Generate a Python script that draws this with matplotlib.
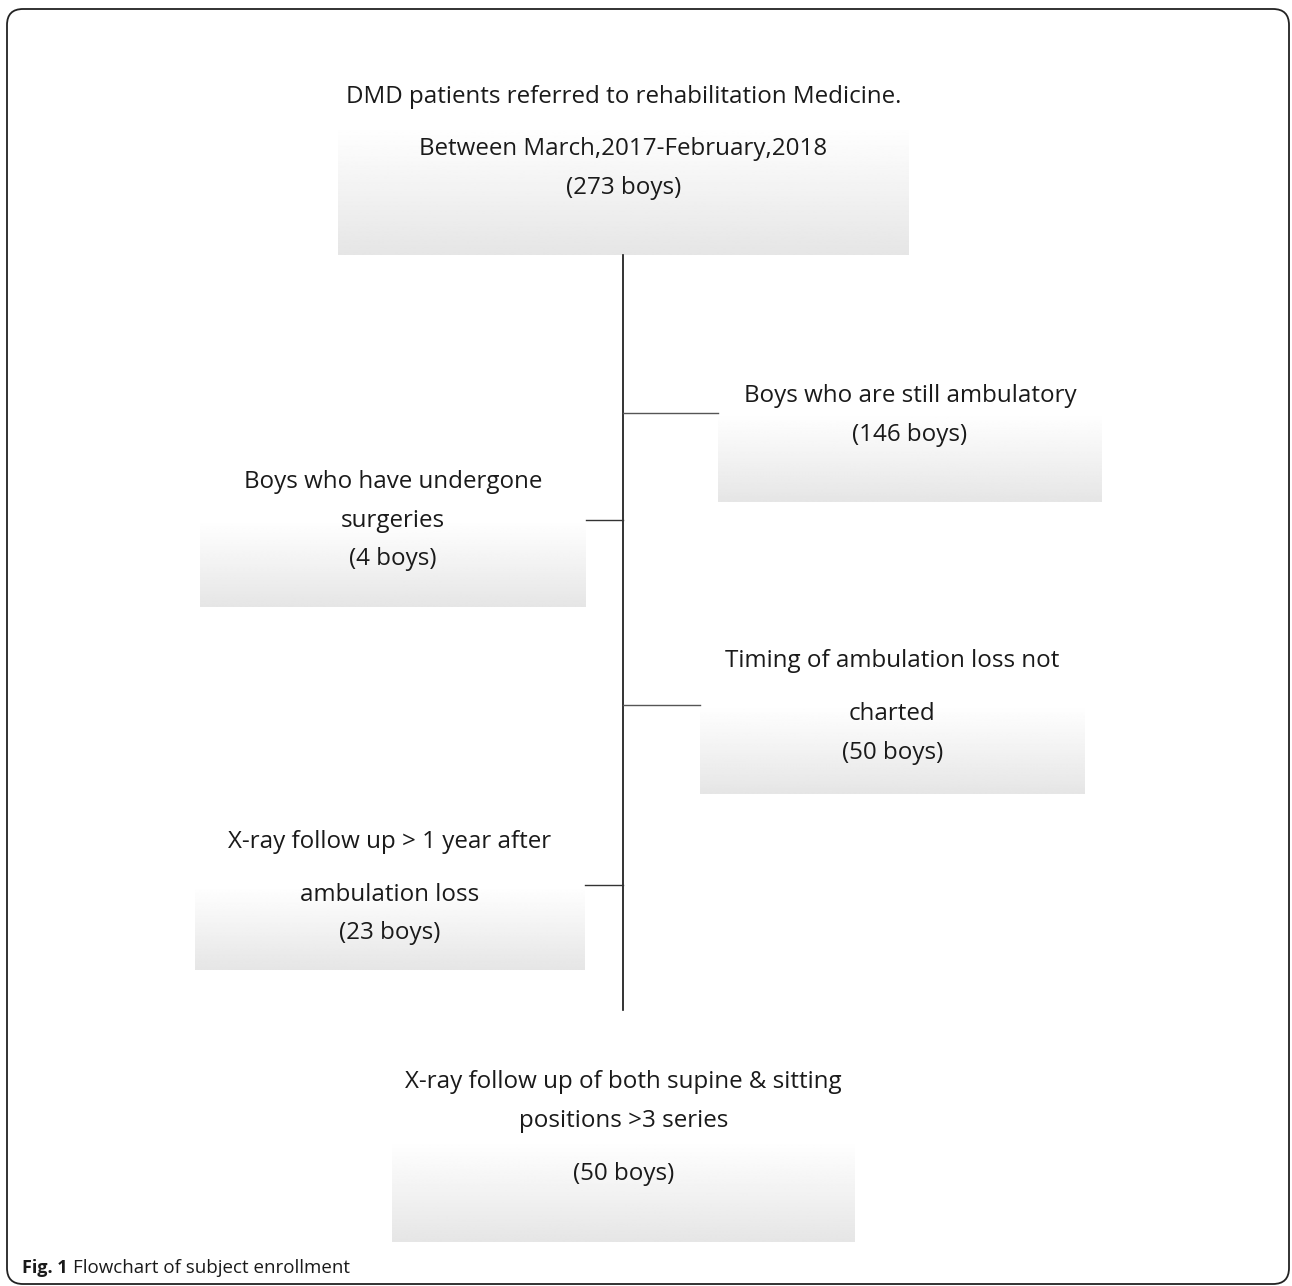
import numpy as np
import matplotlib.pyplot as plt
from matplotlib.patches import FancyBboxPatch

plt.rcParams['font.family'] = ['Open Sans', 'DejaVu Sans']

# text lines of each box, in flow order
box_lines = [
    ["DMD patients referred to rehabilitation Medicine.",
     "Between March,2017-February,2018", "(273 boys)"],
    ["Boys who are still ambulatory", "(146 boys)"],
    ["Boys who have undergone", "surgeries", "(4 boys)"],
    ["Timing of ambulation loss not", "charted", "(50 boys)"],
    ["X-ray follow up > 1 year after", "ambulation loss", "(23 boys)"],
    ["X-ray follow up of both supine & sitting", "positions >3 series", "(50 boys)"],
]
counts = [273, 146, 4, 50, 23, 50]

# box geometry in pixels: x0, x1, y_top, y_bottom
boxes = [
    (338, 909, 125, 255),
    (718, 1102, 413, 502),
    (200, 586, 520, 607),
    (700, 1085, 705, 794),
    (195, 585, 886, 970),
    (392, 855, 1140, 1242),
]
# vertical centre of each text line
line_y = [
    [97, 149, 188],
    [396, 435],
    [482, 521, 559],
    [661, 714, 753],
    [842, 895, 933],
    [1082, 1121, 1174],
]

fig = plt.figure(figsize=(12.92, 12.86), dpi=100)
ax = fig.add_axes([0, 0, 1, 1])

# outer rounded frame
frame = FancyBboxPatch((7, 9), 1282, 1275, boxstyle="round,pad=0,rounding_size=16",
                       fc='white', ec='#222222', lw=1.3, zorder=0)
ax.add_patch(frame)

grad = np.linspace(1.0, 0.9, 100).reshape(-1, 1)
for (x0, x1, yt, yb) in boxes:
    ax.imshow(grad, cmap='gray', vmin=0, vmax=1, aspect='auto',
              extent=(x0, x1, yb, yt), zorder=1, interpolation='bilinear')
ax.set_xlim(0, 1292)
ax.set_ylim(1286, 0)
ax.axis('off')

# connector lines
ax.plot([623, 623], [255, 1010], color='#111111', lw=1.2, zorder=2)
ax.plot([623, 718], [413, 413], color='#555555', lw=1.0, zorder=2)
ax.plot([586, 623], [520, 520], color='#333333', lw=1.0, zorder=2)
ax.plot([623, 700], [705, 705], color='#555555', lw=1.0, zorder=2)
ax.plot([585, 623], [885, 885], color='#333333', lw=1.0, zorder=2)

for i, (x0, x1, yt, yb) in enumerate(boxes):
    cx = (x0 + x1) / 2
    for txt, y in zip(box_lines[i], line_y[i]):
        ax.text(cx, y, txt, ha='center', va='center', fontsize=17.4,
                color='#1a1a1a', zorder=3)

fig_lbl = ax.text(22, 1268, "Fig. 1", ha='left', va='baseline', fontsize=13,
                  fontweight='bold', color='#1a1a1a')
fig_lbl.set_va('center')
ax.annotate("Flowchart of subject enrollment", xy=(1, 0.5), xycoords=fig_lbl,
            xytext=(4, 0), textcoords='offset points', ha='left', va='center',
            fontsize=13.5, color='#1a1a1a')

fig.savefig('out.png', dpi=100)
